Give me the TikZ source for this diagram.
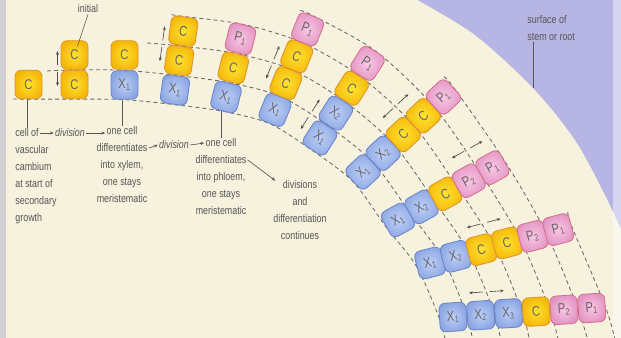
\documentclass[tikz,border=0pt]{standalone}
\usepackage{fontspec}
\setmainfont[FakeStretch=0.8]{Liberation Sans}
\usepackage{tikz}
\usetikzlibrary{positioning, arrows.meta, backgrounds}

\definecolor{paper}{RGB}{246,242,221}
\definecolor{stem}{RGB}{183,181,228}
\definecolor{ink}{RGB}{85,85,85}
\definecolor{yellowin}{RGB}{255,226,48}
\definecolor{yellowout}{RGB}{244,184,10}
\definecolor{yellowedge}{RGB}{222,148,40}
\definecolor{bluein}{RGB}{188,207,247}
\definecolor{blueout}{RGB}{140,166,226}
\definecolor{blueedge}{RGB}{104,132,204}
\definecolor{pinkin}{RGB}{249,198,226}
\definecolor{pinkout}{RGB}{226,148,196}
\definecolor{pinkedge}{RGB}{214,110,140}

% two small arrows pushing the daughter cells apart
\newcommand{\splitpair}[2]{%
  \draw[splitarrow] (#1,#2+3.5) -- (#1,#2+17.5);
  \draw[splitarrow] (#1,#2-3.5) -- (#1,#2-17.5);}

\begin{document}
\begin{tikzpicture}[x=0.3mm, y=0.3mm, >={Stealth[length=3.2pt, width=2.6pt]}]
    \tikzstyle{every node}=[font=\fontsize{9.5}{14.5}\selectfont, text=ink]
    \tikzset{
      cellbox/.style={draw, line width=0.7pt, rounded corners=1.8mm, inner sep=0pt,
        minimum width=8.1mm, minimum height=8.55mm, text=black!60,
        font=\fontsize{12}{12}\selectfont},
      cambium/.style={cellbox, draw=yellowedge, inner color=yellowin, outer color=yellowout},
      xylem/.style={cellbox, draw=blueedge, inner color=bluein, outer color=blueout},
      phloem/.style={cellbox, draw=pinkedge, inner color=pinkin, outer color=pinkout},
      turned/.style={every node/.append style={rotate=90}},
      txt/.style={inner sep=1pt, align=center},
      flow/.style={->, draw=ink, line width=0.55pt},
      lead/.style={draw=ink, line width=0.5pt},
      splitarrow/.style={->, draw=black!70, line width=0.55pt},
      ring/.style={draw=black!60, line width=0.7pt, dash pattern=on 3.4pt off 2.6pt}
    }
    \useasboundingbox (0,0) rectangle (621,338);

    \begin{scope}[shift={(28.5,253.5)}]
      \node[cambium] (a0) at (0,0) {C};
    \end{scope}

    \begin{scope}[shift={(74.5,253.5)}]
      \node[cambium] (b0) at (0,0) {C};
      \node[cambium] (b1) at (0,29.5) {C};
      \splitpair{-17}{16}
    \end{scope}

    \begin{scope}[shift={(124.5,253)}]
      \node[xylem]   (c0) at (0,0) {X\textsubscript{1}};
      \node[cambium] (c1) at (0,30) {C};
    \end{scope}

    \begin{scope}[shift={(175,248)}, rotate=-8, transform shape]
      \node[xylem]   (d0) at (0,0) {X\textsubscript{1}};
      \node[cambium] (d1) at (0,29.7) {C};
      \node[cambium] (d2) at (0,59.4) {C};
      \splitpair{-19}{44}
    \end{scope}

    \begin{scope}[shift={(226,241)}, rotate=-14, transform shape]
      \node[xylem]   (e0) at (0,0) {X\textsubscript{1}};
      \node[cambium] (e1) at (0,30) {C};
      \node[phloem]  (e2) at (0,60) {P\textsubscript{1}};
    \end{scope}

    \begin{scope}[shift={(275,228)}, rotate=-22, transform shape]
      \node[xylem]   (f0) at (0,0) {X\textsubscript{1}};
      \node[cambium] (f1) at (0,29) {C};
      \node[cambium] (f2) at (0,58) {C};
      \node[phloem]  (f3) at (0,87) {P\textsubscript{1}};
      \splitpair{-20}{43.5}
    \end{scope}

    \begin{scope}[shift={(320,200)}, rotate=-32.5, transform shape]
      \node[xylem]   (g0) at (0,0) {X\textsubscript{1}};
      \node[xylem]   (g1) at (0,29.5) {X\textsubscript{2}};
      \node[cambium] (g2) at (0,59) {C};
      \node[phloem]  (g3) at (0,88.5) {P\textsubscript{1}};
      \splitpair{-21}{14.75}
    \end{scope}

    % from here on the cells lie on their side: east is the outer face
    \begin{scope}[shift={(363,166)}, rotate=-47, transform shape, turned]
      \node[xylem]   (h0) at (0,0) {X\textsubscript{1}};
      \node[xylem]   (h1) at (0,27.5) {X\textsubscript{2}};
      \node[cambium] (h2) at (0,55) {C};
      \node[cambium] (h3) at (0,82.5) {C};
      \node[phloem]  (h4) at (0,110) {P\textsubscript{1}};
      \splitpair{-26}{68.75}
    \end{scope}

    \begin{scope}[shift={(398,118)}, rotate=-61, transform shape, turned]
      \node[xylem]   (i0) at (0,0) {X\textsubscript{1}};
      \node[xylem]   (i1) at (0,27) {X\textsubscript{2}};
      \node[cambium] (i2) at (0,54) {C};
      \node[phloem]  (i3) at (0,81) {P\textsubscript{2}};
      \node[phloem]  (i4) at (0,108) {P\textsubscript{1}};
      \splitpair{-28}{94.5}
    \end{scope}

    \begin{scope}[shift={(430,75)}, rotate=-75.4, transform shape, turned]
      \node[xylem]   (j0) at (0,0) {X\textsubscript{1}};
      \node[xylem]   (j1) at (0,26.5) {X\textsubscript{2}};
      \node[cambium] (j2) at (0,53) {C};
      \node[cambium] (j3) at (0,79.5) {C};
      \node[phloem]  (j4) at (0,106) {P\textsubscript{2}};
      \node[phloem]  (j5) at (0,132.5) {P\textsubscript{1}};
      \splitpair{-25}{62}
    \end{scope}

    \begin{scope}[shift={(453,21)}, rotate=-86.3, transform shape, turned]
      \node[xylem]   (k0) at (0,0) {X\textsubscript{1}};
      \node[xylem]   (k1) at (0,27.8) {X\textsubscript{2}};
      \node[xylem]   (k2) at (0,55.6) {X\textsubscript{3}};
      \node[cambium] (k3) at (0,83.4) {C};
      \node[phloem]  (k4) at (0,111.2) {P\textsubscript{2}};
      \node[phloem]  (k5) at (0,139) {P\textsubscript{1}};
      \splitpair{-23}{35}
    \end{scope}

    \node[txt] (initial) at (88,329) {initial};
    \draw[lead, shorten >=2.8mm] (initial.south) -- (b1.center);

    \node[txt, anchor=west]        (cellof)   at (14,205)  {cell of};
    \node[txt, anchor=north west, align=left] (cellrest) at (14,194)
      {vascular\\cambium\\at start of\\secondary\\growth};
    \node[txt]                     (div1)     at (70,205)  {\textit{division}};
    \node[txt]                     (onecella) at (122,207) {one cell};
    \node[txt, anchor=north]       (xylemtxt) at (122,196)
      {differentiates\\into xylem,\\one stays\\meristematic};
    \node[txt]                     (div2)     at (174,193) {\textit{division}};
    \node[txt]                     (onecellb) at (221,195) {one cell};
    \node[txt, anchor=north]       (phloemtxt) at (221,184)
      {differentiates\\into phloem,\\one stays\\meristematic};
    \node[txt, anchor=north]       (divtxt)   at (300,159)
      {divisions\\and\\differentiation\\continues};
    \node[txt, anchor=north west, align=left] (surface) at (526,324)
      {surface of\\stem or root};
    \coordinate (rim) at (533,250);

    \draw[flow] (cellof) -- (div1);
    \draw[flow] (div1.east) -- (div1.east -| onecella.west);
    \draw[flow] ([yshift=-1.8mm]xylemtxt.north east) -- (div2.west);
    \draw[flow] (div2.east) -- (onecellb.west);
    \draw[flow] ([yshift=-1.8mm]phloemtxt.north east) -- ([xshift=1mm, yshift=-0.5mm]divtxt.north west);

    \draw[lead] (cellof.north) -- (cellof.north |- a0.south);
    \draw[lead] (onecella.north) -- (onecella.north |- c0.south);
    \draw[lead] (onecellb.north) -- (onecellb.north |- e0.south);
    \draw[lead] (surface.south -| rim) -- (rim);

    \begin{scope}[on background layer]
      \clip (0,0) rectangle (621,338);
      \fill[paper] (0,0) rectangle (621,338);
      \fill[stem] plot[smooth] coordinates {(414,340) (475,303) (533,250) (575,198) (605,143) (625,100)}
        -- (625,340) -- cycle;
      \fill[black!18] (0,0) rectangle (6,338);
      \fill[white, opacity=0.45] (613,0) rectangle (621,338);

      \draw[ring] plot[smooth] coordinates {(13,239) (a0.south) (b0.south) (c0.south) (d0.south)
        (e0.south) (f0.south) (g0.south) (h0.west) (i0.west) (j0.west) (k0.west) (447,-10)};
      \draw[ring] plot[smooth] coordinates {(47,267) (b0.north) (c0.north) (d0.north)
        (e0.north) (f0.north) (g0.north) (h0.east) (i0.east) (j0.east) (k0.east) (474,-10)};
      \draw[ring] plot[smooth] coordinates {(147,295) (d1.north) (e1.north) (f1.north)
        (g1.north) (h1.east) (i1.east) (j1.east) (k1.east) (502,-10)};
      \draw[ring] plot[smooth] coordinates {(d2.north west) (d2.north) (e2.north) (f2.north)
        (g2.north) (h2.east) (i2.east) (j2.east) (k2.east) (531,-10)};
      \draw[ring] plot[smooth] coordinates {(f3.north west) (f3.north) (g3.north) (h3.east)
        (i3.east) (j3.east) (k3.east) (560,-10)};
      \draw[ring] plot[smooth] coordinates {(h4.north east) (h4.east) (i4.east) (j4.east)
        (k4.east) (590,-10)};
      \draw[ring] plot[smooth] coordinates {(j5.north east) (j5.east) (k5.east) (617,-10)};
    \end{scope}
\end{tikzpicture}
\end{document}
